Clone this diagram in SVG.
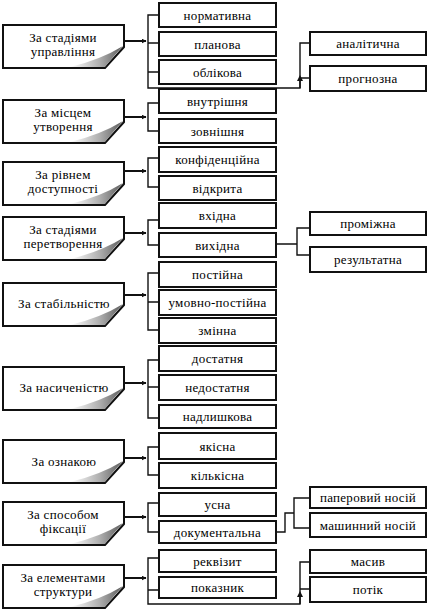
<svg xmlns="http://www.w3.org/2000/svg" width="428" height="611" viewBox="0 0 428 611" font-family="Liberation Serif, Times New Roman, serif">
<style>
.bx{fill:#fff;stroke:#111;stroke-width:2}
.lb{fill:#fff;stroke:#111;stroke-width:2;stroke-linejoin:miter}
text{font-family:"Liberation Serif",serif;font-size:13px;fill:#000;text-anchor:middle;letter-spacing:0.3px}
.ln{fill:none;stroke:#111;stroke-width:1.4}
.ar{fill:none;stroke:#111;stroke-width:2}
.curl{fill:url(#g);stroke:none}
</style>
<defs>
<linearGradient id="g" x1="0" y1="0" x2="1" y2="0">
<stop offset="0" stop-color="#ffffff"/>
<stop offset="0.55" stop-color="#b0b0b0"/>
<stop offset="1" stop-color="#5a5a5a"/>
</linearGradient>
<marker id="ah" viewBox="0 0 10 10" refX="9" refY="5" markerWidth="5" markerHeight="5" orient="auto" markerUnits="userSpaceOnUse">
<path d="M0,0 L10,5 L0,10 Z" fill="#111"/>
</marker>
<marker id="au" viewBox="0 0 10 10" refX="5" refY="5" markerWidth="6" markerHeight="6" orient="auto" markerUnits="userSpaceOnUse">
<path d="M0,0 L10,5 L0,10 Z" fill="#111"/>
</marker>
</defs>

<!-- left nodes -->
<g id="n1"><path class="lb" d="M3,25 H124 V47 L105,68 H3 Z"/><path class="curl" d="M70,67 Q100,60 123,46 Q112,58 105,67 Z"/><text x="63" y="42">За стадіями</text><text x="63" y="56">управління</text></g>
<g id="n2"><path class="lb" d="M3,100 H124 V122 L105,143 H3 Z"/><path class="curl" d="M70,142 Q100,135 123,121 Q112,133 105,142 Z"/><text x="63" y="117">За місцем</text><text x="63" y="131">утворення</text></g>
<g id="n3"><path class="lb" d="M3,162 H124 V184 L105,205 H3 Z"/><path class="curl" d="M70,204 Q100,197 123,183 Q112,195 105,204 Z"/><text x="63" y="179">За рівнем</text><text x="63" y="193">доступності</text></g>
<g id="n4"><path class="lb" d="M3,217 H124 V239 L105,260 H3 Z"/><path class="curl" d="M70,259 Q100,252 123,238 Q112,250 105,259 Z"/><text x="63" y="234">За стадіями</text><text x="63" y="248">перетворення</text></g>
<g id="n5"><path class="lb" d="M3,283 H124 V305 L105,326 H3 Z"/><path class="curl" d="M70,325 Q100,318 123,304 Q112,316 105,325 Z"/><text x="64" y="308">За стабільністю</text></g>
<g id="n6"><path class="lb" d="M3,367 H124 V389 L105,410 H3 Z"/><path class="curl" d="M70,409 Q100,402 123,388 Q112,400 105,409 Z"/><text x="64" y="392">За насиченістю</text></g>
<g id="n7"><path class="lb" d="M3,440 H124 V462 L105,483 H3 Z"/><path class="curl" d="M70,482 Q100,475 123,461 Q112,473 105,482 Z"/><text x="64" y="466">За ознакою</text></g>
<g id="n8"><path class="lb" d="M3,502 H124 V524 L105,545 H3 Z"/><path class="curl" d="M70,544 Q100,537 123,523 Q112,535 105,544 Z"/><text x="63" y="519">За способом</text><text x="63" y="533">фіксації</text></g>
<g id="n9"><path class="lb" d="M3,565 H124 V587 L105,608 H3 Z"/><path class="curl" d="M70,607 Q100,600 123,586 Q112,598 105,607 Z"/><text x="63" y="582">За елементами</text><text x="63" y="596">структури</text></g>

<!-- connectors -->
<g id="connectors">
<line class="ar" x1="124" y1="41" x2="146" y2="41" marker-end="url(#ah)"/>
<line class="ar" x1="124" y1="117" x2="146" y2="117" marker-end="url(#ah)"/>
<line class="ar" x1="124" y1="171" x2="146" y2="171" marker-end="url(#ah)"/>
<line class="ar" x1="124" y1="233" x2="146" y2="233" marker-end="url(#ah)"/>
<line class="ar" x1="124" y1="295" x2="146" y2="295" marker-end="url(#ah)"/>
<line class="ar" x1="124" y1="383" x2="146" y2="383" marker-end="url(#ah)"/>
<line class="ar" x1="124" y1="458" x2="146" y2="458" marker-end="url(#ah)"/>
<line class="ar" x1="124" y1="517" x2="146" y2="517" marker-end="url(#ah)"/>
<line class="ar" x1="124" y1="578" x2="146" y2="578" marker-end="url(#ah)"/>

<path class="ln" d="M159,15 H148 V88 H300 V43 H310 M148,43 H159 M148,72 H159 M300,78 H310"/>
<line class="ln" x1="300" y1="88" x2="300" y2="78" marker-end="url(#au)"/>
<path class="ln" d="M159,103 H148 V131 H159"/>
<path class="ln" d="M159,158 H148 V187 H159"/>
<path class="ln" d="M159,220 H148 V245 H159"/>
<path class="ln" d="M276,244 H297 M309,228 H297 V255 H309"/>
<path class="ln" d="M159,273 H148 V330 H159 M148,302 H159"/>
<path class="ln" d="M159,360 H148 V418 H159 M148,387 H159"/>
<path class="ln" d="M159,447 H148 V475 H159"/>
<path class="ln" d="M159,503 H148 V532 H159"/>
<path class="ln" d="M277,532 H285 V513 H294 M310,498 H294 V528 H310"/>
<path class="ln" d="M159,558 H148 V604 H300 V562 H310 M148,590 H159 M300,589 H310"/>
<line class="ln" x1="300" y1="604" x2="300" y2="594" marker-end="url(#au)"/>
</g>

<!-- right nodes -->
<g id="r1"><rect class="bx" x="159" y="3" width="117" height="24"/><text x="217.5" y="19.5">нормативна</text></g>
<g id="r2"><rect class="bx" x="159" y="32" width="117" height="24"/><text x="217.5" y="48.5">планова</text></g>
<g id="r3"><rect class="bx" x="159" y="60" width="117" height="24"/><text x="217.5" y="76.5">облікова</text></g>
<g id="r4"><rect class="bx" x="159" y="89" width="117" height="24"/><text x="217.5" y="105.5">внутрішня</text></g>
<g id="r5"><rect class="bx" x="159" y="119" width="117" height="24"/><text x="217.5" y="135.5">зовнішня</text></g>
<g id="r6"><rect class="bx" x="159" y="147" width="117" height="25"/><text x="217.5" y="164">конфіденційна</text></g>
<g id="r7"><rect class="bx" x="159" y="176" width="117" height="24"/><text x="217.5" y="192.5">відкрита</text></g>
<g id="r8"><rect class="bx" x="159" y="203" width="117" height="25"/><text x="217.5" y="220">вхідна</text></g>
<g id="r9"><rect class="bx" x="159" y="233" width="117" height="24"/><text x="217.5" y="249.5">вихідна</text></g>
<g id="r10"><rect class="bx" x="159" y="262" width="117" height="25"/><text x="217.5" y="279">постійна</text></g>
<g id="r11"><rect class="bx" x="159" y="290" width="117" height="25"/><text x="217.5" y="307">умовно-постійна</text></g>
<g id="r12"><rect class="bx" x="159" y="318" width="117" height="25"/><text x="217.5" y="335">змінна</text></g>
<g id="r13"><rect class="bx" x="159" y="346" width="117" height="25"/><text x="217.5" y="363">достатня</text></g>
<g id="r14"><rect class="bx" x="159" y="375" width="117" height="25"/><text x="217.5" y="392">недостатня</text></g>
<g id="r15"><rect class="bx" x="159" y="405" width="117" height="23"/><text x="217.5" y="421">надлишкова</text></g>
<g id="r16"><rect class="bx" x="159" y="433" width="117" height="26"/><text x="217.5" y="450.5">якісна</text></g>
<g id="r17"><rect class="bx" x="159" y="463" width="117" height="25"/><text x="217.5" y="480">кількісна</text></g>
<g id="r18"><rect class="bx" x="159" y="493" width="117" height="23"/><text x="217.5" y="509">усна</text></g>
<g id="r19"><rect class="bx" x="159" y="521" width="117" height="22"/><text x="217.5" y="536.5">документальна</text></g>
<g id="r20"><rect class="bx" x="159" y="550" width="117" height="22"/><text x="217.5" y="565.5">реквізит</text></g>
<g id="r21"><rect class="bx" x="159" y="577" width="117" height="21"/><text x="217.5" y="592">показник</text></g>

<g id="f1"><rect class="bx" x="310" y="32" width="116" height="23"/><text x="368" y="48">аналітична</text></g>
<g id="f2"><rect class="bx" x="310" y="66" width="116" height="25"/><text x="368" y="83">прогнозна</text></g>
<g id="f3"><rect class="bx" x="310" y="212" width="116" height="23"/><text x="368" y="228">проміжна</text></g>
<g id="f4"><rect class="bx" x="310" y="247" width="116" height="25"/><text x="368" y="264">результатна</text></g>
<g id="f5"><rect class="bx" x="310" y="487" width="116" height="21"/><text x="368" y="502">паперовий носій</text></g>
<g id="f6"><rect class="bx" x="310" y="513" width="116" height="24"/><text x="368" y="529.5">машинний носій</text></g>
<g id="f7"><rect class="bx" x="310" y="550" width="116" height="23"/><text x="368" y="566">масив</text></g>
<g id="f8"><rect class="bx" x="310" y="577" width="116" height="25"/><text x="368" y="594">потік</text></g>
</svg>
